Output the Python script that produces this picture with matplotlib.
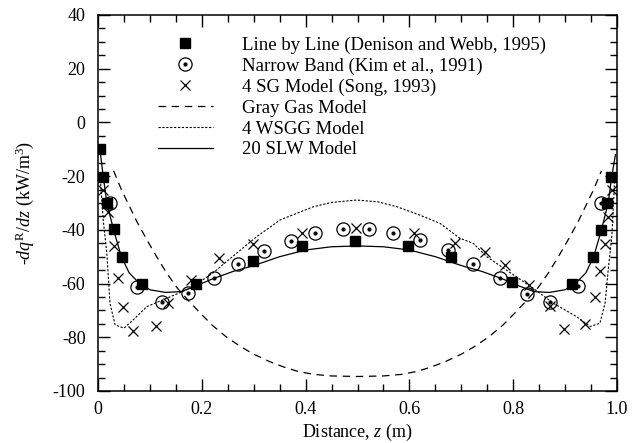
import matplotlib
matplotlib.use("Agg")
import matplotlib.pyplot as plt
from matplotlib.ticker import MultipleLocator, FixedLocator

plt.rcParams['font.family'] = ['Liberation Serif', 'DejaVu Serif']
plt.rcParams['mathtext.fontset'] = 'custom'
plt.rcParams['mathtext.rm'] = 'Liberation Serif'
plt.rcParams['mathtext.it'] = 'Liberation Serif:italic'
plt.rcParams['axes.unicode_minus'] = False

# Line by Line (Denison and Webb, 1995)
lbl_x = [0.004, 0.010, 0.017, 0.031, 0.046, 0.084, 0.189, 0.298, 0.394, 0.495,
         0.597, 0.681, 0.797, 0.913, 0.953, 0.969, 0.980, 0.988]
lbl_y = [-9.9, -20.2, -30.1, -39.8, -50.0, -60.3, -60.3, -51.5, -45.9, -44.1,
         -46.0, -50.2, -59.3, -60.3, -50.0, -40.0, -30.1, -20.2]

# Narrow Band (Kim et al., 1991)
nb_x = [0.023, 0.076, 0.123, 0.174, 0.224, 0.270, 0.320, 0.372, 0.419, 0.473,
        0.523, 0.569, 0.620, 0.675, 0.723, 0.775, 0.826, 0.871, 0.925, 0.970]
nb_y = [-30.0, -61.2, -66.7, -63.7, -58.0, -52.6, -47.9, -44.1, -41.1, -39.8,
        -39.8, -41.0, -43.8, -47.5, -52.7, -58.0, -63.9, -66.7, -61.0, -30.1]

# 4 SG Model (Song, 1993)
sg_x = [0.009, 0.020, 0.031, 0.039, 0.049, 0.068, 0.112, 0.135, 0.180, 0.234,
        0.299, 0.394, 0.497, 0.608, 0.688, 0.745, 0.785, 0.831, 0.870, 0.897,
        0.939, 0.958, 0.967, 0.977, 0.983, 0.991]
sg_y = [-25.0, -33.5, -46.0, -58.0, -68.8, -77.6, -75.8, -67.3, -58.7, -50.6,
        -45.4, -41.3, -39.4, -41.0, -44.8, -48.3, -53.1, -60.7, -68.5, -77.0,
        -75.2, -65.1, -55.2, -45.2, -35.3, -25.2]

# Gray Gas Model
gray_x = [0.030, 0.045, 0.060, 0.075, 0.095, 0.113, 0.132, 0.152, 0.175, 0.197,
          0.220, 0.248, 0.275, 0.300, 0.330, 0.357, 0.385, 0.415, 0.450, 0.500,
          0.550, 0.585, 0.615, 0.643, 0.670, 0.700, 0.725, 0.752, 0.780, 0.803,
          0.825, 0.848, 0.868, 0.887, 0.905, 0.925, 0.940, 0.955, 0.970]
gray_y = [-18.0, -25.0, -31.0, -37.0, -44.0, -50.0, -56.0, -61.5, -66.5, -71.0,
          -75.5, -80.0, -83.5, -86.3, -89.0, -91.0, -92.7, -93.8, -94.4, -94.6,
          -94.4, -93.8, -92.7, -91.0, -89.0, -86.3, -83.5, -80.0, -75.5, -71.0,
          -66.5, -61.5, -56.0, -50.0, -44.0, -37.0, -31.0, -25.0, -18.0]

# 4 WSGG Model
wsgg_x = [0.004, 0.010, 0.017, 0.023, 0.033, 0.050, 0.068, 0.094, 0.132, 0.177,
          0.222, 0.267, 0.306, 0.351, 0.415, 0.450, 0.498, 0.540, 0.576, 0.620,
          0.659, 0.697, 0.723, 0.749, 0.787, 0.839, 0.877, 0.922, 0.948, 0.967,
          0.977, 0.983, 0.990, 0.996]
wsgg_y = [-20.0, -36.3, -48.7, -67.3, -75.4, -76.6, -73.5, -68.6, -65.5, -61.8,
          -56.0, -48.7, -42.5, -36.3, -31.4, -29.8, -28.9, -29.6, -31.4, -34.5,
          -37.6, -43.1, -45.0, -50.0, -55.0, -61.8, -67.3, -72.3, -76.0, -74.8,
          -67.3, -55.0, -42.5, -19.0]

# 20 SLW Model
slw_x = [0.003, 0.010, 0.017, 0.030, 0.045, 0.060, 0.080, 0.100, 0.130, 0.160,
         0.190, 0.220, 0.260, 0.300, 0.350, 0.400, 0.450, 0.500, 0.550, 0.600,
         0.650, 0.700, 0.740, 0.780, 0.810, 0.840, 0.870, 0.900, 0.920, 0.940,
         0.955, 0.970, 0.983, 0.990, 0.997]
slw_y = [-9.0, -20.0, -30.0, -40.0, -50.0, -56.0, -60.0, -62.3, -63.3, -63.0,
         -60.8, -58.3, -55.5, -53.3, -50.0, -47.5, -46.3, -46.0, -46.3, -47.5,
         -50.0, -53.3, -55.5, -58.3, -60.8, -63.0, -63.3, -62.3, -60.0, -56.0,
         -50.0, -40.0, -30.0, -20.0, -12.0]

x_ticks = [0, 0.2, 0.4, 0.6, 0.8, 1.0]
x_ticklabels = ['0', '0.2', '0.4', '0.6', '0.8', '1.0']
y_ticks = [-100, -80, -60, -40, -20, 0, 20, 40]

fig = plt.figure(figsize=(6.34, 4.43), dpi=100)
ax = fig.add_axes([0.1546, 0.1174, 0.8186, 0.8488])

h_lbl, = ax.plot(lbl_x, lbl_y, 's', color='black', ms=7.5, ls='none')
h_nb, = ax.plot(nb_x, nb_y, 'o', mfc='none', mec='black', mew=0.9, ms=9.5, ls='none')
h_nbd, = ax.plot(nb_x, nb_y, 'o', color='black', ms=2.0, ls='none')
h_sg, = ax.plot(sg_x, sg_y, 'x', color='black', ms=7, mew=0.9, ls='none')
h_gray, = ax.plot(gray_x, gray_y, color='black', lw=0.9, dashes=(6, 4.5))
h_wsgg, = ax.plot(wsgg_x, wsgg_y, color='black', lw=0.8, dashes=(2, 1.5))
h_slw, = ax.plot(slw_x, slw_y, color='black', lw=0.9)

ax.set_xlim(0, 1)
ax.set_ylim(-100, 40)
ax.xaxis.set_major_locator(FixedLocator(x_ticks))
ax.set_xticklabels(x_ticklabels)
ax.xaxis.set_minor_locator(MultipleLocator(0.05))
ax.yaxis.set_major_locator(FixedLocator(y_ticks))
ax.yaxis.set_minor_locator(MultipleLocator(5))
ax.tick_params(which='both', direction='in', top=True, right=True, labelsize=13, width=1)
ax.tick_params(which='major', length=8.5)
ax.tick_params(which='minor', length=5)
ax.tick_params(axis='x', which='major', pad=7)
ax.tick_params(axis='y', which='major', pad=9)
for s in ax.spines.values():
    s.set_linewidth(1.1)

ax.set_xlabel('Distance, $z$ (m)', fontsize=13, labelpad=3)
ax.set_ylabel(r'-$dq^{\mathrm{R}}/dz$ (kW/m$^3$)', fontsize=13, labelpad=12)

ax.legend([h_lbl, (h_nb, h_nbd), h_sg, h_gray, h_wsgg, h_slw],
          ['Line by Line (Denison and Webb, 1995)', 'Narrow Band (Kim et al., 1991)',
           '4 SG Model (Song, 1993)', 'Gray Gas Model', '4 WSGG Model', '20 SLW Model'],
          loc='upper left', bbox_to_anchor=(0.115, 0.943), frameon=False,
          fontsize=13.5, handlelength=2.95, handletextpad=1.55, labelspacing=0.2,
          borderpad=0, borderaxespad=0)

fig.savefig('out.png', dpi=100)
